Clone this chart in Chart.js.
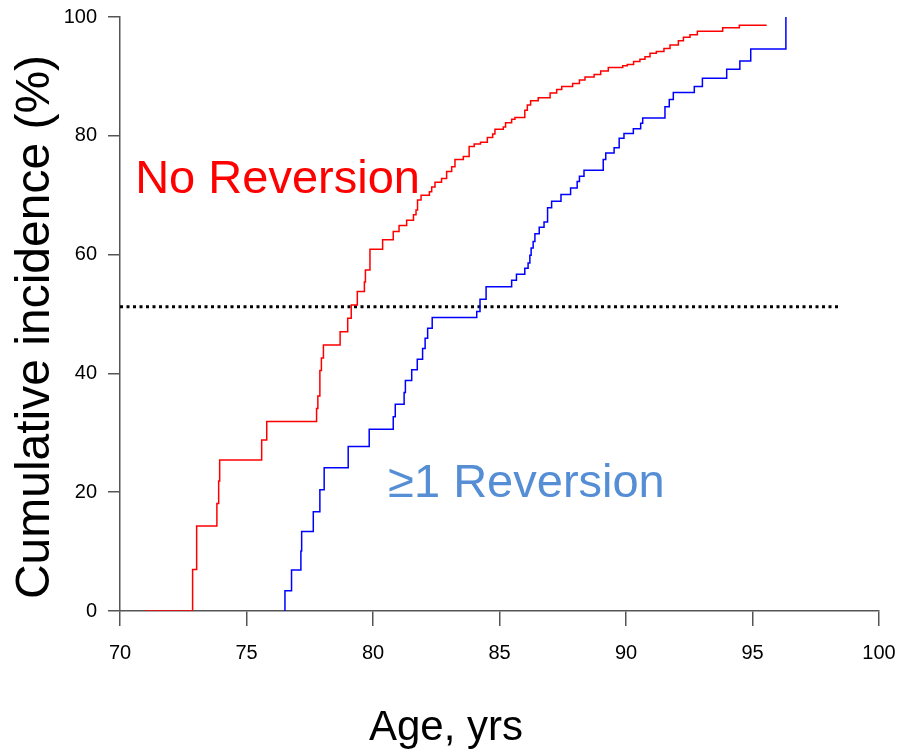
<!DOCTYPE html>
<html>
<head>
<meta charset="utf-8">
<script src="https://cdn.jsdelivr.net/npm/chart.js"></script>
<style>
  body { margin: 0; background: #fff; }
  canvas { display: block; }
</style>
</head>
<body>
<canvas id="myChart" width="897" height="749"></canvas>
<script>
// 데이터: 나이(년)와 누적 발생률(%)
const noRevAge = [71.0, 72.87, 73.03, 73.83, 73.9, 73.94, 75.6, 75.8, 77.77, 77.82, 77.9, 77.96, 78.04, 78.7, 79.0, 79.14, 79.38, 79.66, 79.7, 79.88,
  80.38, 80.8, 81.03, 81.33, 81.6, 81.7, 81.76, 81.9, 82.23, 82.32, 82.45, 82.71, 82.91, 83.11, 83.24, 83.57, 83.8, 84.0, 84.25, 84.52,
  84.73, 84.82, 85.15, 85.24, 85.48, 85.61, 86.0, 86.1, 86.23, 86.53, 87.0, 87.26, 87.46, 87.89, 88.16, 88.38, 88.74, 89.0, 89.3, 89.87,
  90.05, 90.3, 90.55, 90.75, 90.95, 91.2, 91.5, 91.74, 92.07, 92.27, 92.53, 92.82, 93.82, 94.48, 95.56];
const noRevPct = [0, 7.0, 14.3, 18.1, 21.9, 25.4, 28.8, 31.9, 34.1, 36.2, 40.5, 42.6, 44.8, 47.0, 49.3, 51.5, 53.8, 55.4, 57.4, 60.9,
  62.5, 63.9, 64.9, 65.8, 66.7, 67.5, 69.2, 70.0, 70.6, 71.4, 72.2, 72.8, 74.0, 74.8, 76.0, 76.5, 78.2, 78.6, 78.9, 79.7,
  80.3, 81.1, 81.5, 82.2, 82.8, 83.1, 84.3, 85.2, 85.9, 86.4, 87.2, 87.8, 88.3, 88.8, 89.4, 89.9, 90.3, 90.9, 91.5, 91.8,
  92.0, 92.5, 92.9, 93.3, 93.9, 94.2, 94.7, 95.3, 96.0, 96.6, 97.0, 97.6, 98.2, 98.6, 98.6];

const revAge = [76.52, 76.52, 76.78, 77.15, 77.18, 77.64, 77.9, 78.07, 79.02, 79.85, 80.8, 80.88, 81.23, 81.28, 81.53, 81.75, 81.96, 82.06, 82.16, 82.34,
  84.1, 84.23, 84.47, 85.48, 85.67, 86.0, 86.13, 86.2, 86.25, 86.33, 86.4, 86.57, 86.76, 86.9, 87.06, 87.43, 87.81, 88.07, 88.16, 88.34,
  89.1, 89.2, 89.53, 89.73, 89.92, 90.29, 90.58, 90.66, 91.54, 91.71, 91.87, 92.7, 93.02, 93.98, 94.5, 94.93, 96.32];
const revPct = [0, 3.4, 6.9, 10.1, 13.4, 16.7, 20.4, 24.1, 27.7, 30.6, 32.7, 34.8, 36.8, 38.8, 40.6, 42.4, 44.2, 45.9, 47.6, 49.4,
  50.4, 52.5, 54.6, 55.7, 56.7, 57.7, 58.6, 59.9, 61.1, 62.2, 63.5, 64.6, 65.5, 67.9, 69.0, 70.1, 71.2, 72.3, 73.2, 74.2,
  76.0, 77.1, 78.0, 79.6, 80.4, 81.2, 82.1, 83.0, 84.9, 86.1, 87.3, 88.3, 89.7, 91.2, 92.6, 94.6, 100];

// 점선 기준선
const refAge = [70, 98.4];
const refPct = [51.2, 51.2];

const xTicks = [70, 75, 80, 85, 90, 95, 100];
const yTicks = [0, 20, 40, 60, 80, 100];

const toPoints = (xs, ys) => xs.map((x, i) => ({ x: x, y: ys[i] }));

const textFamily = "'Liberation Sans', Arial, sans-serif";
const tickFont = { family: textFamily, size: 20 };

// 축 제목과 곡선 라벨
const textPlugin = {
  id: "labels",
  afterDraw: (chart) => {
    const ctx = chart.ctx;
    const xs = chart.scales.x;
    const ys = chart.scales.y;
    ctx.save();
    ctx.textBaseline = "alphabetic";

    ctx.font = "47px " + textFamily;
    ctx.textAlign = "left";
    ctx.fillStyle = "#ff0000";
    ctx.fillText("No Reversion", xs.getPixelForValue(70.6), ys.getPixelForValue(70.4));
    ctx.fillStyle = "#558ED5";
    ctx.fillText("\u22651 Reversion", xs.getPixelForValue(80.6), ys.getPixelForValue(19.2));

    ctx.fillStyle = "#000";
    ctx.textAlign = "center";
    ctx.font = "42px " + textFamily;
    ctx.fillText("Age, yrs", 446, 740);

    ctx.font = "48px " + textFamily;
    ctx.translate(49, 327);
    ctx.rotate(-Math.PI / 2);
    ctx.fillText("Cumulative incidence (%)", 0, 0);
    ctx.restore();
  },
};

const ctx = document.getElementById("myChart").getContext("2d");
const chart = new Chart(ctx, {
  type: "line",
  data: {
    datasets: [
      {
        label: "No Reversion",
        data: toPoints(noRevAge, noRevPct),
        borderColor: "#ff0000",
        borderWidth: 1.5,
        stepped: "before",
        fill: false,
      },
      {
        label: ">=1 Reversion",
        data: toPoints(revAge, revPct),
        borderColor: "#0000ff",
        borderWidth: 1.5,
        stepped: "before",
        fill: false,
      },
      {
        label: "reference",
        data: toPoints(refAge, refPct),
        borderColor: "#000",
        borderWidth: 3,
        borderDash: [3, 3.5],
        fill: false,
      },
    ],
  },
  options: {
    responsive: false,
    animation: false,
    events: [],
    elements: { point: { radius: 0 } },
    layout: { padding: { top: 17, right: 18, left: 0, bottom: 0 } },
    plugins: { legend: { display: false }, tooltip: { enabled: false } },
    scales: {
      x: {
        type: "linear",
        min: 70,
        max: 100,
        afterBuildTicks: (scale) => { scale.ticks = xTicks.map((v) => ({ value: v })); },
        afterFit: (scale) => {
          scale.height = 138;
          scale.paddingLeft = 0;
          scale.paddingRight = 0;
        },
        ticks: { font: tickFont, color: "#000", padding: 15 },
        grid: { drawOnChartArea: false, tickLength: 15, color: "#555", lineWidth: 1.5 },
        border: { color: "#555", width: 1.5 },
      },
      y: {
        min: 0,
        max: 100,
        afterBuildTicks: (scale) => { scale.ticks = yTicks.map((v) => ({ value: v })); },
        afterFit: (scale) => {
          scale.width = 120;
          scale.paddingTop = 0;
          scale.paddingBottom = 0;
        },
        ticks: { font: tickFont, color: "#000", padding: 11 },
        grid: { drawOnChartArea: false, tickLength: 12, color: "#555", lineWidth: 1.5 },
        border: { color: "#555", width: 1.5 },
      },
    },
  },
  plugins: [
    {
      id: "whiteBackground",
      beforeDraw: (chart) => {
        const c = chart.ctx;
        c.save();
        c.fillStyle = "white";
        c.fillRect(0, 0, chart.width, chart.height);
        c.restore();
      },
    },
    textPlugin,
  ],
});
</script>
</body>
</html>
